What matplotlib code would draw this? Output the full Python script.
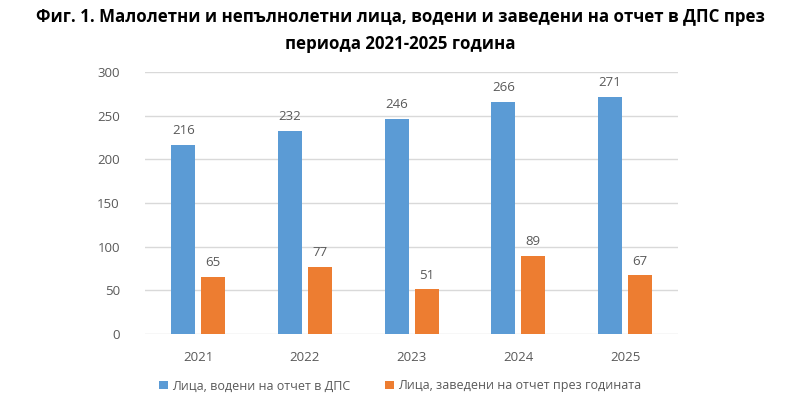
import numpy as np
import matplotlib.pyplot as plt

years = ["2021", "2022", "2023", "2024", "2025"]
kept = [216, 232, 246, 266, 271]
new = [65, 77, 51, 89, 67]
series_names = ["Лица, водени на отчет в ДПС", "Лица, заведени на отчет през годината"]

blue = "#5B9BD5"
orange = "#ED7D31"
grey = "#595959"

plt.rcParams['font.family'] = ['Open Sans', 'DejaVu Sans']

fig = plt.figure(figsize=(8, 4.15), dpi=100)
ax = fig.add_axes([0.181, 0.195, 0.667, 0.632])

x = np.arange(len(years))
w = 0.225
off = 0.14
b1 = ax.bar(x - off, kept, w, color=blue, label=series_names[0], zorder=3)
b2 = ax.bar(x + off, new, w, color=orange, label=series_names[1], zorder=3)

for bars in (b1, b2):
    for r in bars:
        ax.text(r.get_x() + r.get_width() / 2, r.get_height() + 9, f"{int(r.get_height())}",
                ha="center", va="bottom", fontsize=9.5, color=grey)

ax.set_xlim(-0.5, 4.5)
ax.set_ylim(0, 300)
ax.set_yticks(range(0, 301, 50))
ax.set_xticks(x)
ax.set_xticklabels(years)
ax.grid(axis="y", color="#D9D9D9", linewidth=1, zorder=0)
for s in ax.spines.values():
    s.set_visible(False)
ax.tick_params(length=0, colors=grey, labelsize=9.5)
ax.tick_params(axis="x", pad=12)
ax.tick_params(axis="y", pad=18)

fig.legend(handles=[b1, b2], loc="center", bbox_to_anchor=(0.5, 0.07), ncol=2,
           frameon=False, fontsize=9, labelcolor=grey, handlelength=0.7,
           handleheight=0.7, handletextpad=0.3, columnspacing=2.8)

fig.text(0.5, 0.958, "Фиг. 1. Малолетни и непълнолетни лица, водени и заведени на отчет в ДПС през",
         ha="center", va="center", fontsize=12.2, fontweight="bold", color="black")
fig.text(0.5, 0.895, "периода 2021-2025 година",
         ha="center", va="center", fontsize=12.2, fontweight="bold", color="black")

fig.savefig("out.png", dpi=100)
